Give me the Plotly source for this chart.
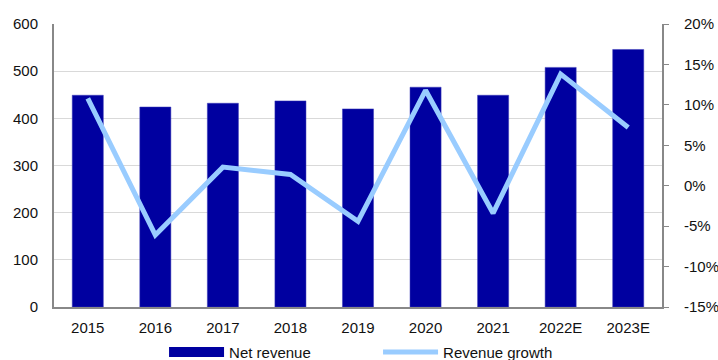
import plotly.graph_objects as go

years = ["2015", "2016", "2017", "2018", "2019", "2020", "2021", "2022E", "2023E"]
net_revenue = [449, 424, 432, 437, 420, 466, 449, 508, 546]
revenue_growth = [10.8, -6.1, 2.3, 1.4, -4.4, 11.8, -3.4, 13.8, 7.2]
left_ticks = [0, 100, 200, 300, 400, 500, 600]
right_ticks = [-15, -10, -5, 0, 5, 10, 15, 20]
right_labels = [f"{v}%" for v in right_ticks]

BAR_COLOR = "#0000A0"

fig = go.Figure()
# legend-only entry to mimic the wide rectangular legend swatch
fig.add_trace(go.Scatter(
    x=[None], y=[None], name="Net revenue", mode="lines",
    line=dict(color=BAR_COLOR, width=12), yaxis="y", hoverinfo="skip",
))
fig.add_trace(go.Bar(
    x=years, y=net_revenue, name="Net revenue", showlegend=False,
    marker=dict(color=BAR_COLOR, line=dict(color="#3a3ab8", width=0.5)),
    width=0.46, yaxis="y",
))
fig.add_trace(go.Scatter(
    x=years, y=revenue_growth, name="Revenue growth", mode="lines",
    line=dict(color="#99CCFF", width=5), yaxis="y2",
))

fig.update_layout(
    width=718, height=360,
    margin=dict(l=54, r=56, t=24, b=53, autoexpand=False),
    paper_bgcolor="white", plot_bgcolor="white",
    font=dict(family="Liberation Sans, Arial", size=15, color="#111"),
    xaxis=dict(type="category", categoryorder="array", categoryarray=years,
               showline=True, linecolor="#888", linewidth=2, ticks="", showgrid=False,
               ticklabelstandoff=6),
    yaxis=dict(range=[0, 600], tickvals=left_ticks, showline=True, linecolor="#888",
               linewidth=2, gridcolor="#d9d9d9", gridwidth=1, ticks="", zeroline=False,
               ticklabelstandoff=11),
    yaxis2=dict(range=[-15, 20], tickvals=right_ticks, ticktext=right_labels,
                overlaying="y", side="right", showline=True, linecolor="#888", linewidth=2,
                ticks="outside", ticklen=5, tickcolor="#888", showgrid=False, zeroline=False,
                ticklabelstandoff=12),
    legend=dict(orientation="h", x=0.181, xanchor="left", y=-0.16, yanchor="middle",
                itemwidth=55, entrywidth=144, entrywidthmode="pixels",
                traceorder="normal", tracegroupgap=0),
    bargap=0.54,
)

fig.write_html("out.html")
